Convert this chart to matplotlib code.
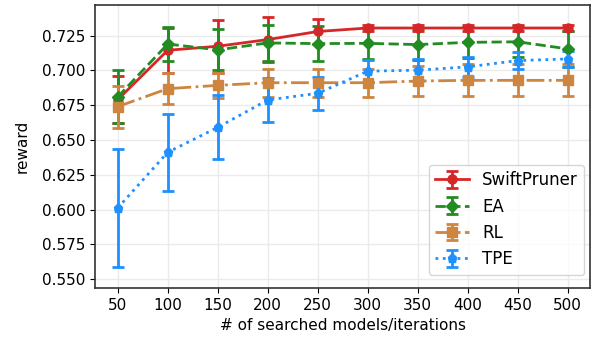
import numpy as np
import matplotlib
matplotlib.use("Agg")
import matplotlib.pyplot as plt

iterations = [50, 100, 150, 200, 250, 300, 350, 400, 450, 500]

swift_mean = [0.679, 0.7145, 0.7174, 0.7222, 0.728, 0.7305, 0.7305, 0.7305, 0.7305, 0.7305]
swift_err = [0.017, 0.016, 0.019, 0.016, 0.009, 0.002, 0.002, 0.002, 0.002, 0.002]

ea_mean = [0.681, 0.719, 0.7148, 0.7198, 0.7193, 0.7195, 0.7186, 0.7202, 0.7206, 0.7155]
ea_err = [0.019, 0.012, 0.0147, 0.013, 0.0125, 0.011, 0.011, 0.011, 0.011, 0.013]

rl_mean = [0.674, 0.6869, 0.6893, 0.6912, 0.6912, 0.6912, 0.6924, 0.6929, 0.6929, 0.6929]
rl_err = [0.015, 0.011, 0.009, 0.010, 0.010, 0.010, 0.011, 0.0115, 0.0115, 0.0115]

tpe_mean = [0.6012, 0.6412, 0.6591, 0.6788, 0.6836, 0.6995, 0.7002, 0.7026, 0.7071, 0.7083]
tpe_err = [0.0425, 0.0275, 0.023, 0.016, 0.012, 0.008, 0.008, 0.007, 0.006, 0.006]

plt.rcParams["font.size"] = 11

fig, ax = plt.subplots(figsize=(5.95, 3.37), dpi=100)

kw = dict(capsize=4, elinewidth=2, capthick=2, linewidth=2, markersize=6.5)
ax.errorbar(iterations, swift_mean, yerr=swift_err, color="#d62728", marker="o",
            linestyle="-", label="SwiftPruner", **kw)
ax.errorbar(iterations, ea_mean, yerr=ea_err, color="#228b22", marker="D",
            linestyle="--", label="EA", **kw)
ax.errorbar(iterations, rl_mean, yerr=rl_err, color="#cd853f", marker="s",
            linestyle="-.", label="RL", **kw)
ax.errorbar(iterations, tpe_mean, yerr=tpe_err, color="#1e90ff", marker="p",
            linestyle=":", label="TPE", **kw)

ax.set_xticks(iterations)
ax.set_yticks(np.arange(0.55, 0.7251, 0.025))
ax.yaxis.set_major_formatter(matplotlib.ticker.FormatStrFormatter("%.3f"))
ax.set_ylim(0.5436, 0.747)
ax.grid(True, color="#ebebeb", linewidth=1)
ax.set_axisbelow(True)
for s in ax.spines.values():
    s.set_color("#333333")
    s.set_linewidth(1.2)

ax.set_xlabel("# of searched models/iterations")
ax.set_ylabel("reward", labelpad=9)
ax.legend(loc="lower right", bbox_to_anchor=(0.995, 0.035), borderaxespad=0.2,
          fontsize=12)

fig.subplots_adjust(left=0.16, right=0.992, top=0.985, bottom=0.145)
fig.savefig("out.png", dpi=100)
